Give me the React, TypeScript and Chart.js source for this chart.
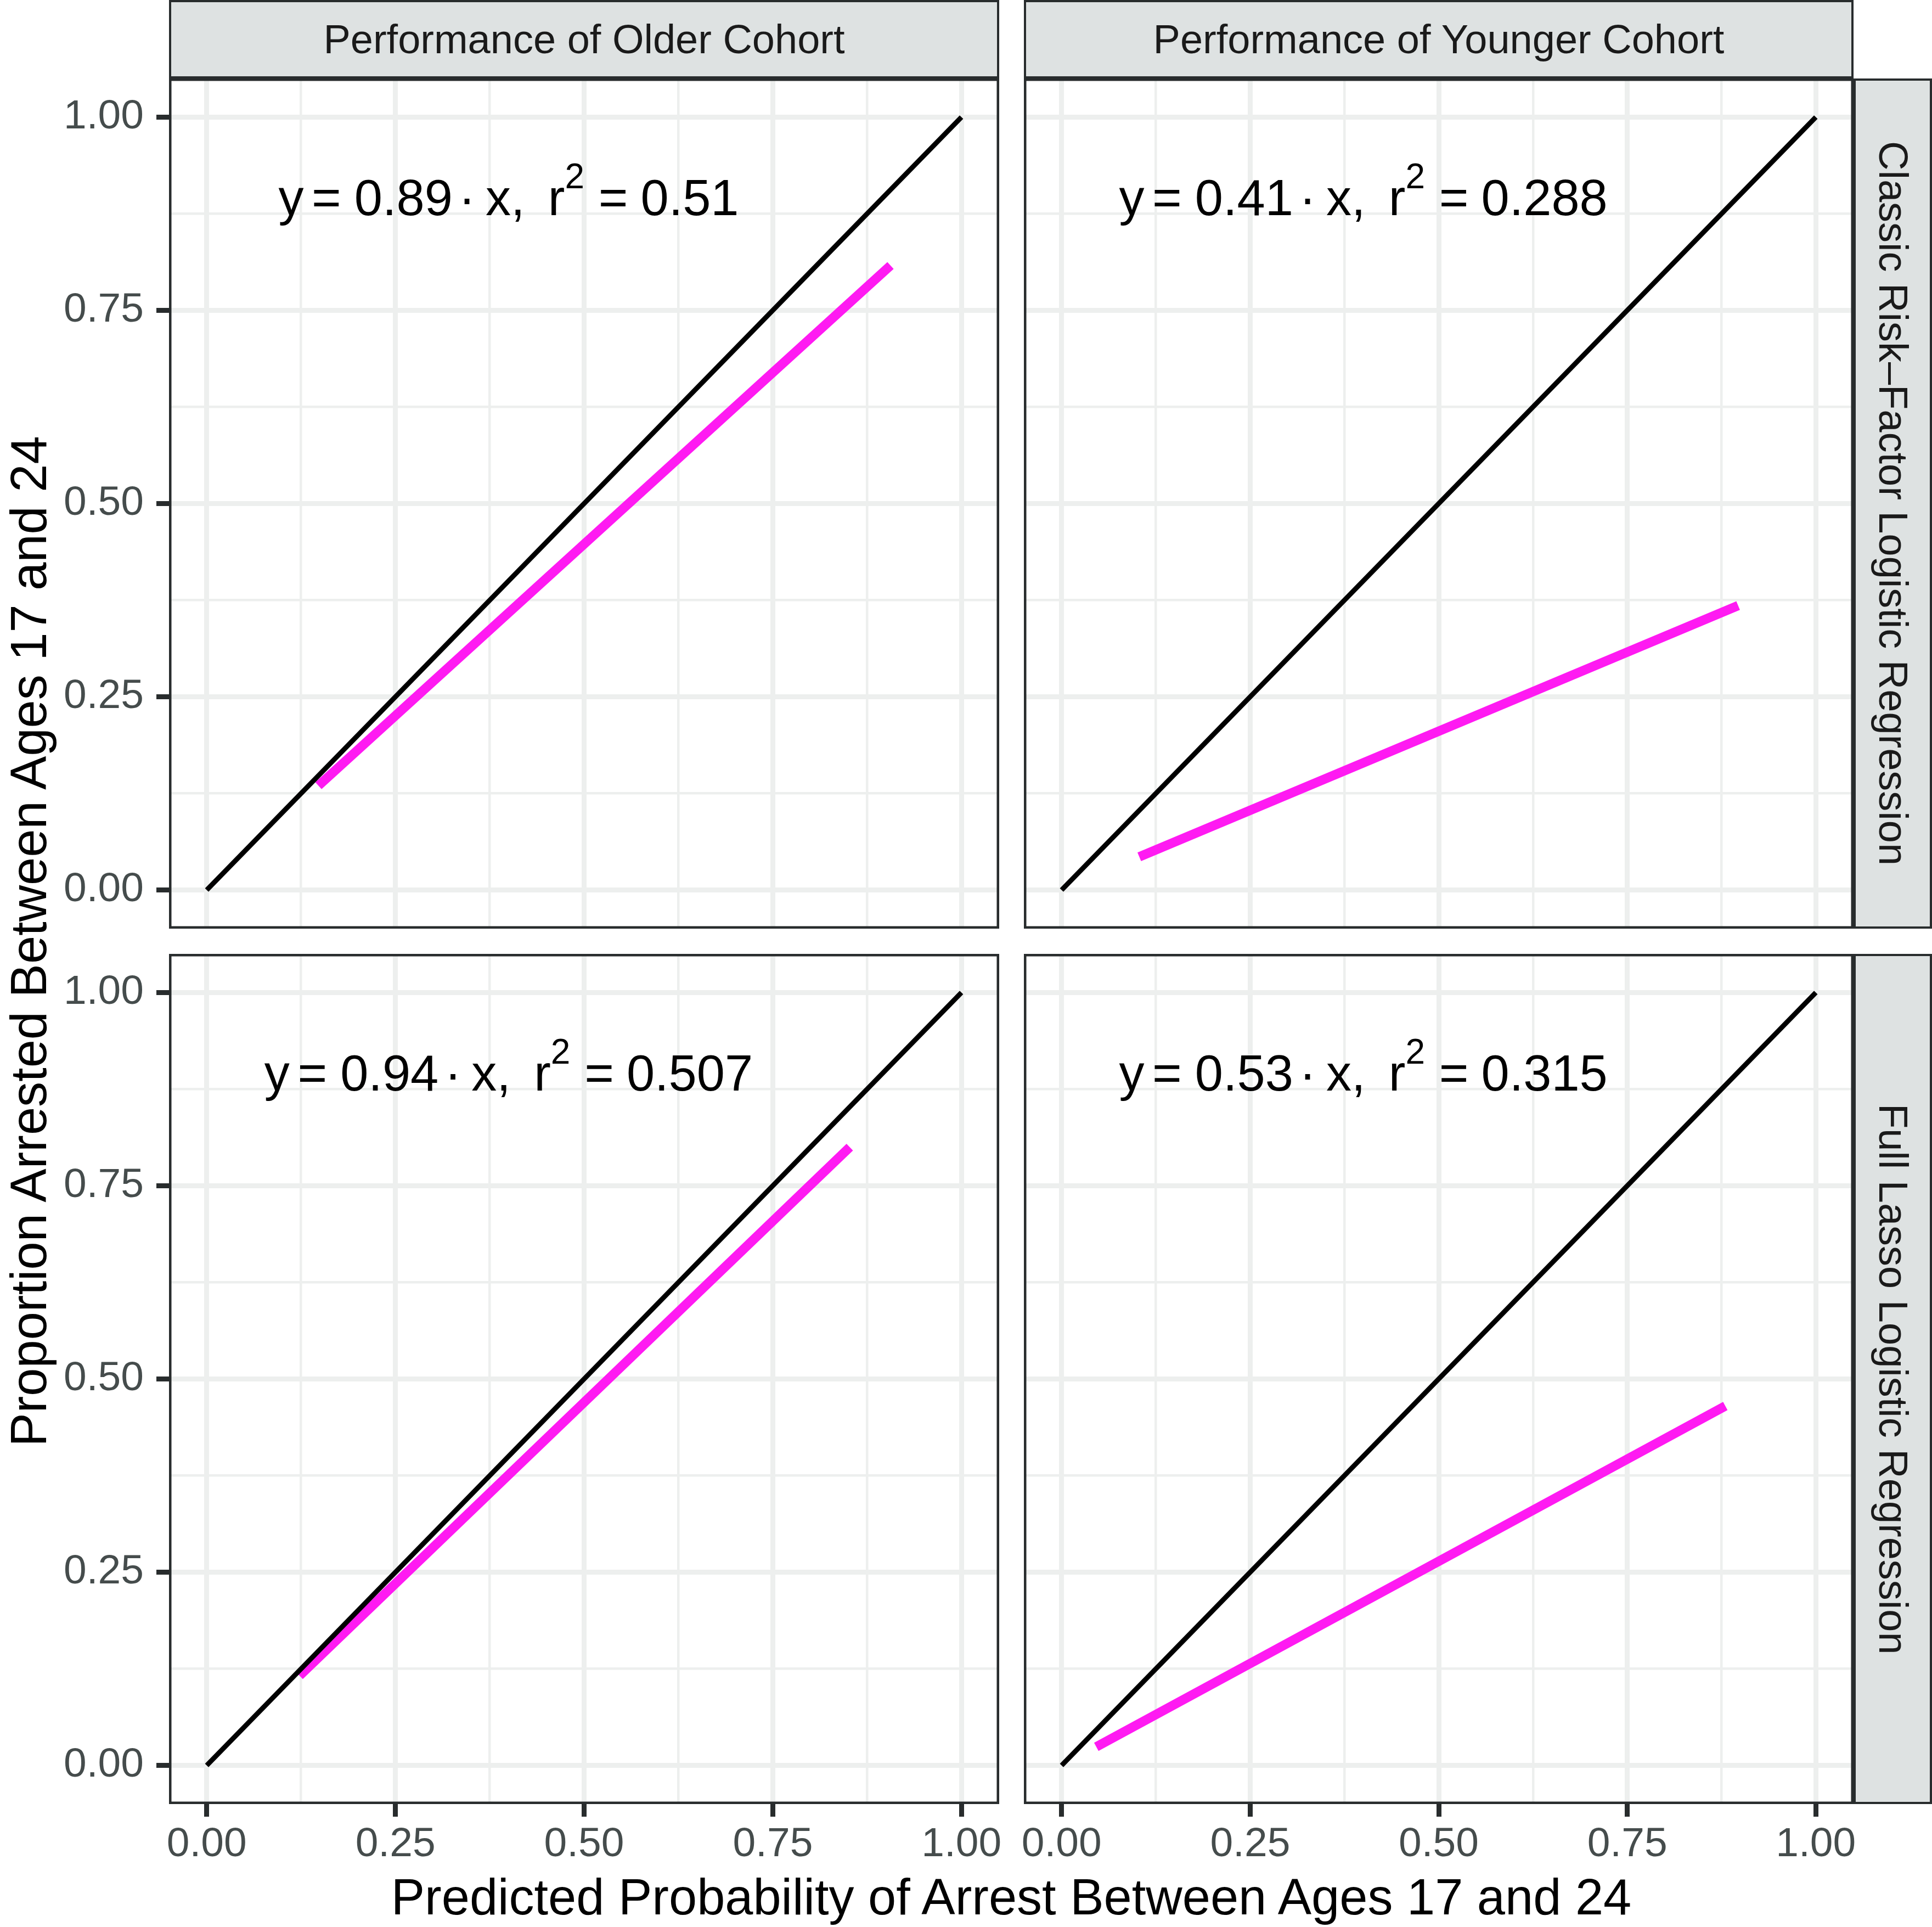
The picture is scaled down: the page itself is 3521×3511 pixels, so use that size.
import React, { useEffect, useRef } from 'react';
import { Chart, registerables } from 'chart.js';

Chart.register(...registerables);

// ---------- data ----------
const COHORTS = ['Performance of Older Cohort', 'Performance of Younger Cohort'];
const MODELS = ['Classic Risk–Factor Logistic Regression', 'Full Lasso Logistic Regression'];
const X_TITLE = 'Predicted Probability of Arrest Between Ages 17 and 24';
const Y_TITLE = 'Proportion Arrested Between Ages 17 and 24';

const AXIS_TICKS = [0, 0.125, 0.25, 0.375, 0.5, 0.625, 0.75, 0.875, 1];
const AXIS_MIN = -0.05;
const AXIS_MAX = 1.05;

const IDENTITY_X = [0, 1];
const IDENTITY_Y = [0, 1];

// fitted calibration lines (start / end points), panel order: row-major
const FIT_X_OLDER_CLASSIC = [0.148, 0.906];
const FIT_Y_OLDER_CLASSIC = [0.135, 0.808];
const FIT_X_YOUNGER_CLASSIC = [0.103, 0.897];
const FIT_Y_YOUNGER_CLASSIC = [0.043, 0.368];
const FIT_X_OLDER_LASSO = [0.123, 0.852];
const FIT_Y_OLDER_LASSO = [0.116, 0.8];
const FIT_X_YOUNGER_LASSO = [0.046, 0.88];
const FIT_Y_YOUNGER_LASSO = [0.024, 0.465];

const SLOPES = ['0.89', '0.41', '0.94', '0.53'];
const R_SQUARED = ['0.51', '0.288', '0.507', '0.315'];
const LABEL_POS = [0.4, 0.9];

const FITS = [
  [FIT_X_OLDER_CLASSIC, FIT_Y_OLDER_CLASSIC],
  [FIT_X_YOUNGER_CLASSIC, FIT_Y_YOUNGER_CLASSIC],
  [FIT_X_OLDER_LASSO, FIT_Y_OLDER_LASSO],
  [FIT_X_YOUNGER_LASSO, FIT_Y_YOUNGER_LASSO],
];

// ---------- layout / style ----------
const W = 3521;
const H = 3511;
const COLS = [
  [308, 1821],
  [1866, 3378],
];
const ROWS = [
  [143, 1692],
  [1738, 3287],
];
const FONT = '"Liberation Sans", Arial, Helvetica, sans-serif';
const PINK = '#FF1AF2';
const GRID = '#EDEFEE';
const BORDER = '#282C2D';
const TICK_TEXT = '#454C4C';
const STRIP_BG = '#DEE2E2';

const isMajor = (v: number) => Math.abs(v * 4 - Math.round(v * 4)) < 1e-6;

function drawEquation(ctx: CanvasRenderingContext2D, cx: number, cy: number, slope: string, r2: string) {
  const size = 92;
  const main = `${size}px ${FONT}`;
  const sup = `${Math.round(size * 0.7)}px ${FONT}`;
  const parts = [
    { t: 'y', f: main, gap: 0.16, rise: 0 },
    { t: '=', f: main, gap: 0.26, rise: 0 },
    { t: slope, f: main, gap: 0.12, rise: 0 },
    { t: '·', f: main, gap: 0.2, rise: 0 },
    { t: 'x,', f: main, gap: 0.46, rise: 0 },
    { t: 'r', f: main, gap: 0, rise: 0 },
    { t: '2', f: sup, gap: 0.28, rise: 0.53 },
    { t: '=', f: main, gap: 0.25, rise: 0 },
    { t: r2, f: main, gap: 0, rise: 0 },
  ];
  ctx.save();
  ctx.fillStyle = '#000';
  ctx.textBaseline = 'alphabetic';
  ctx.textAlign = 'left';
  let total = 0;
  const widths = parts.map((p) => {
    ctx.font = p.f;
    const w = ctx.measureText(p.t).width;
    total += w + p.gap * size;
    return w;
  });
  let x = cx - total / 2;
  const base = cy + 0.41 * size;
  parts.forEach((p, i) => {
    ctx.font = p.f;
    ctx.fillText(p.t, x, base - p.rise * size);
    x += widths[i] + p.gap * size;
  });
  ctx.restore();
}

function Panel({ row, col }: { row: number; col: number }) {
  const ref = useRef<HTMLCanvasElement | null>(null);
  useEffect(() => {
    const idx = row * 2 + col;
    const [xl, xr] = COLS[col];
    const [yt, yb] = ROWS[row];
    const showX = row === 1;
    const showY = col === 0;
    const [fx, fy] = FITS[idx];

    const panelPlugin = {
      id: 'panelDeco' + idx,
      afterDatasetsDraw(chart: any) {
        const { ctx, chartArea: a, scales } = chart;
        drawEquation(
          ctx,
          scales.x.getPixelForValue(LABEL_POS[0]),
          scales.y.getPixelForValue(LABEL_POS[1]),
          SLOPES[idx],
          R_SQUARED[idx]
        );
        ctx.save();
        ctx.strokeStyle = BORDER;
        ctx.lineWidth = 4.5;
        ctx.strokeRect(a.left + 2.25, a.top + 2.25, a.right - a.left - 4.5, a.bottom - a.top - 4.5);
        ctx.restore();
      },
    };

    const gridCfg = (show: boolean) => ({
      color: GRID,
      lineWidth: (c: any) => (c.tick && isMajor(c.tick.value) ? 9 : 4.5),
      drawTicks: show,
      tickLength: 23,
      tickWidth: 9,
      tickColor: (c: any) => (c.tick && isMajor(c.tick.value) ? BORDER : 'rgba(0,0,0,0)'),
    });

    const chart = new Chart(ref.current as HTMLCanvasElement, {
      type: 'scatter',
      data: {
        datasets: [
          {
            data: IDENTITY_X.map((x, i) => ({ x, y: IDENTITY_Y[i] })),
            showLine: true,
            borderColor: '#000000',
            borderWidth: 9,
            pointRadius: 0,
          },
          {
            data: fx.map((x, i) => ({ x, y: fy[i] })),
            showLine: true,
            borderColor: PINK,
            borderWidth: 17,
            pointRadius: 0,
          },
        ],
      },
      options: {
        responsive: false,
        maintainAspectRatio: false,
        animation: false,
        devicePixelRatio: 1,
        events: [],
        layout: { padding: { left: 0, top: yt, right: W - xr, bottom: 0 } },
        plugins: { legend: { display: false }, tooltip: { enabled: false } },
        scales: {
          x: {
            type: 'linear',
            min: AXIS_MIN,
            max: AXIS_MAX,
            afterBuildTicks: (s: any) => {
              s.ticks = AXIS_TICKS.map((v) => ({ value: v }));
            },
            afterFit: (s: any) => {
              s.height = H - yb;
            },
            ticks: {
              display: showX,
              autoSkip: false,
              maxRotation: 0,
              minRotation: 0,
              padding: 6,
              color: TICK_TEXT,
              font: { family: FONT, size: 75 },
              callback: (v: any) => (isMajor(Number(v)) ? Number(v).toFixed(2) : ''),
            },
            grid: gridCfg(showX),
            border: { display: false },
          },
          y: {
            type: 'linear',
            min: AXIS_MIN,
            max: AXIS_MAX,
            afterBuildTicks: (s: any) => {
              s.ticks = AXIS_TICKS.map((v) => ({ value: v }));
            },
            afterFit: (s: any) => {
              s.width = xl;
            },
            ticks: {
              display: showY,
              autoSkip: false,
              padding: 23,
              color: TICK_TEXT,
              font: { family: FONT, size: 75 },
              callback: (v: any) => (isMajor(Number(v)) ? Number(v).toFixed(2) : ''),
            },
            grid: gridCfg(showY),
            border: { display: false },
          },
        },
      },
      plugins: [panelPlugin],
    } as any);
    return () => chart.destroy();
  }, [row, col]);

  return (
    <canvas
      ref={ref}
      width={W}
      height={H}
      style={{ position: 'absolute', left: 0, top: 0, width: W, height: H, pointerEvents: 'none' }}
    />
  );
}

const stripBase: React.CSSProperties = {
  position: 'absolute',
  boxSizing: 'border-box',
  border: `4.5px solid ${BORDER}`,
  background: STRIP_BG,
  display: 'flex',
  alignItems: 'center',
  justifyContent: 'center',
  fontFamily: FONT,
  fontSize: 74,
  lineHeight: '74px',
  color: '#1A1A1A',
  whiteSpace: 'nowrap',
};

export default function App() {
  return (
    <div
      style={{
        position: 'absolute',
        left: 0,
        top: 0,
        width: W,
        height: H,
        overflow: 'hidden',
        background: '#ffffff',
      }}
    >
      {COHORTS.map((c, i) => (
        <div
          key={'top' + i}
          style={{ ...stripBase, left: COLS[i][0], top: 0, width: COLS[i][1] - COLS[i][0], height: ROWS[0][0] }}
        >
          {c}
        </div>
      ))}
      {MODELS.map((m, i) => (
        <div
          key={'right' + i}
          style={{
            ...stripBase,
            left: COLS[1][1],
            top: ROWS[i][0],
            width: W - COLS[1][1],
            height: ROWS[i][1] - ROWS[i][0],
            writingMode: 'vertical-rl',
          }}
        >
          {m}
        </div>
      ))}
      <div
        style={{
          position: 'absolute',
          left: COLS[0][0],
          top: 3410,
          width: COLS[1][1] - COLS[0][0],
          height: 92,
          fontFamily: FONT,
          fontSize: 92,
          lineHeight: '92px',
          textAlign: 'center',
          color: '#000',
          whiteSpace: 'nowrap',
        }}
      >
        {X_TITLE}
      </div>
      <div
        style={{
          position: 'absolute',
          left: 52 - (ROWS[1][1] - ROWS[0][0]) / 2,
          top: (ROWS[0][0] + ROWS[1][1]) / 2 - 46,
          width: ROWS[1][1] - ROWS[0][0],
          height: 92,
          fontFamily: FONT,
          fontSize: 92,
          lineHeight: '92px',
          textAlign: 'center',
          color: '#000',
          whiteSpace: 'nowrap',
          transform: 'rotate(-90deg)',
          transformOrigin: 'center center',
        }}
      >
        {Y_TITLE}
      </div>
      <Panel row={0} col={0} />
      <Panel row={0} col={1} />
      <Panel row={1} col={0} />
      <Panel row={1} col={1} />
    </div>
  );
}
